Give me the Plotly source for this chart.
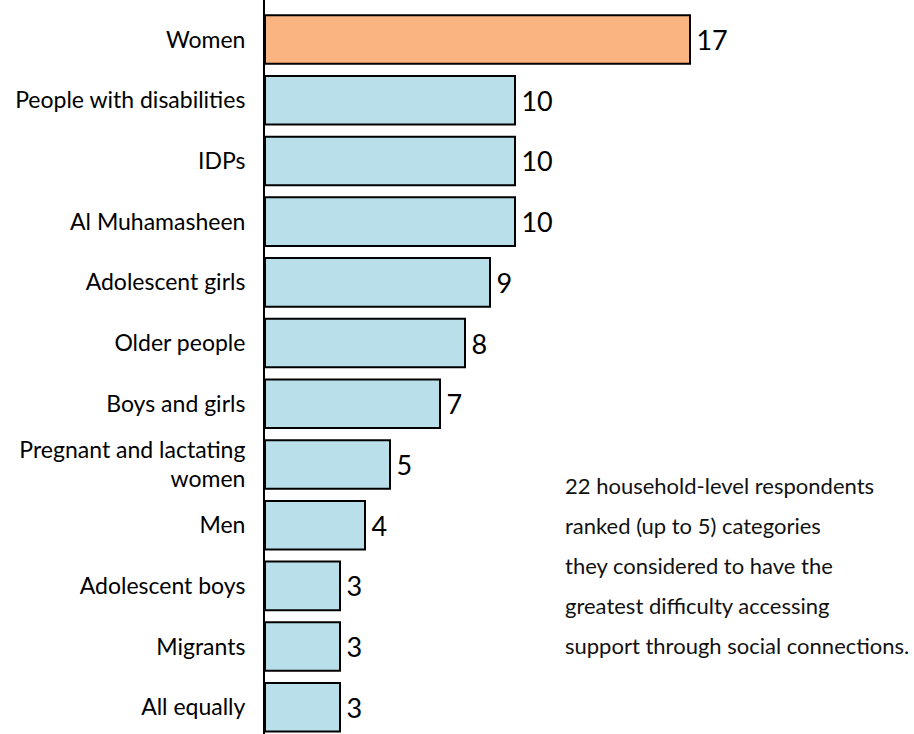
import plotly.graph_objects as go

categories = ["Women", "People with disabilities", "IDPs", "Al Muhamasheen",
              "Adolescent girls", "Older people", "Boys and girls",
              "Pregnant and lactating<br>women", "Men", "Adolescent boys",
              "Migrants", "All equally"]
values = [17, 10, 10, 10, 9, 8, 7, 5, 4, 3, 3, 3]
highlight = ["Women"]
note_lines = ["22 household-level respondents",
              "ranked (up to 5) categories",
              "they considered to have the",
              "greatest difficulty accessing",
              "support through social connections."]

ORANGE = "#F9B482"
BLUE = "#B9E0EA"
FONT = "Lato, 'Open Sans', sans-serif"

idx = list(range(len(categories)))
colors = [ORANGE if c in highlight else BLUE for c in categories]

fig = go.Figure(go.Bar(
    x=values, y=idx, orientation="h",
    marker=dict(color=colors, line=dict(color="black", width=2)),
    width=0.8,
    text=["\u2009" + str(v) for v in values], textposition="outside",
    textfont=dict(size=27, color="black", family=FONT),
    cliponaxis=False,
))

W, H = 914, 734
ML = 265
unit = 25.0
fig.update_layout(
    width=W, height=H,
    margin=dict(l=ML, r=0, t=0, b=0, pad=0),
    paper_bgcolor="white", plot_bgcolor="white",
    showlegend=False,
    font=dict(family=FONT, color="black"),
    xaxis=dict(range=[0, (W - ML) / unit], visible=False, fixedrange=True,
               automargin=False),
    yaxis=dict(range=[11.44, -0.651], tickvals=idx, ticktext=categories,
               tickfont=dict(size=23, color="black", family=FONT),
               showgrid=False, zeroline=False, ticks="",
               showline=True, linecolor="black", linewidth=2,
               ticklabelstandoff=13, automargin=False, fixedrange=True),
)

y0 = 485
for i, line in enumerate(note_lines):
    fig.add_annotation(
        text=line, xref="paper", yref="paper",
        x=(563 - ML) / (W - ML), y=1 - (y0 + 40 * i) / H,
        xanchor="left", yanchor="middle", showarrow=False,
        font=dict(size=22, color="#111", family=FONT),
    )

fig.write_html("out.html", config={"displayModeBar": False},
               post_script="document.body.style.margin='0';")
